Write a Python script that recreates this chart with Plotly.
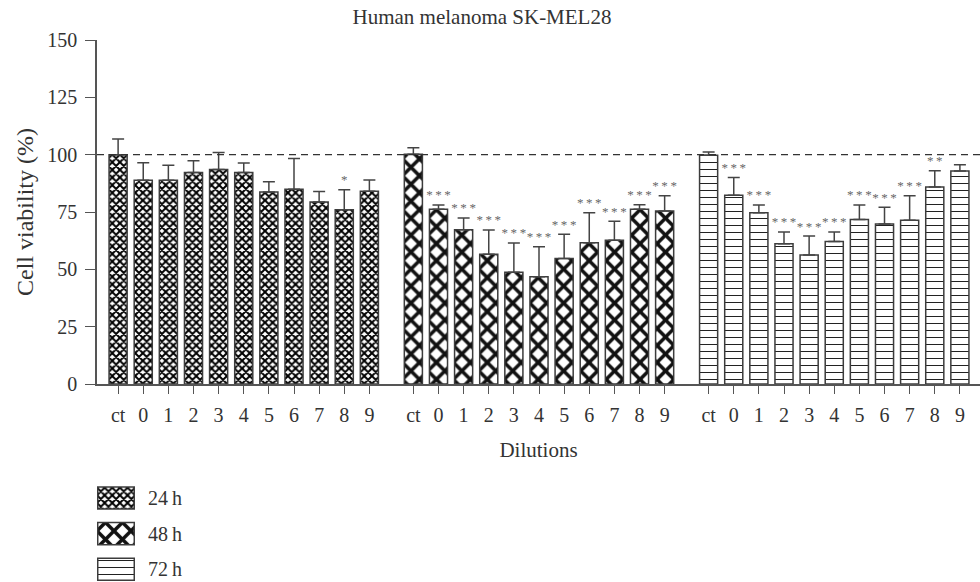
import plotly.graph_objects as go

categories = ["ct", "0", "1", "2", "3", "4", "5", "6", "7", "8", "9"]
series_names = ["24\u2009h", "48\u2009h", "72\u2009h"]

v24 = [100.0, 88.8, 88.8, 92.2, 93.5, 92.2, 83.7, 84.9, 79.4, 76.0, 84.0]
e24 = [6.8, 7.7, 6.6, 5.1, 7.4, 4.2, 4.5, 13.4, 4.5, 8.7, 5.0]
s24 = ["", "", "", "", "", "", "", "", "", "*", ""]

v48 = [100.2, 76.2, 67.3, 56.6, 48.7, 46.8, 54.7, 61.6, 62.7, 76.2, 75.4]
e48 = [2.8, 1.9, 5.1, 10.6, 12.8, 13.1, 10.6, 13.1, 8.3, 2.0, 6.7]
s48 = ["", "***", "***", "***", "***", "***", "***", "***", "***", "***", "***"]

v72 = [99.7, 82.3, 74.7, 61.2, 56.3, 62.1, 71.7, 69.8, 71.4, 85.9, 92.9]
e72 = [1.5, 7.7, 3.4, 5.1, 8.2, 4.2, 6.4, 7.3, 10.7, 7.1, 2.7]
s72 = ["", "***", "***", "***", "***", "***", "***", "***", "***", "**", ""]

yticks = [0, 25, 50, 75, 100, 125, 150]

GROUP_STEP = 11.75
values = [v24, v48, v72]
errors = [e24, e48, e72]
stars = [s24, s48, s72]
patterns = [
    dict(shape="x", size=5.4, solidity=0.6, fgcolor="#000", bgcolor="white", fillmode="replace"),
    dict(shape="x", size=12, solidity=0.5, fgcolor="#111", bgcolor="white", fillmode="replace"),
    dict(shape="-", size=7, solidity=0.15, fgcolor="#222", bgcolor="white", fillmode="replace"),
]
OUTLINE = dict(color="#3c3c3c", width=1.5)

FONT = "Liberation Serif"
TXT = "#333"
fig = go.Figure()
all_x, all_t = [], []
for g in range(3):
    xs = [g * GROUP_STEP + i for i in range(len(categories))]
    all_x += xs
    all_t += categories
    fig.add_trace(go.Bar(
        x=xs, y=values[g], width=0.72, name=series_names[g], showlegend=False,
        marker=dict(color="white", pattern=patterns[g], line=OUTLINE),
        error_y=dict(type="data", array=errors[g], arrayminus=[0] * len(xs),
                     color="#444", thickness=1.5, width=6),
        xaxis="x", yaxis="y",
    ))
    star_fmt = ["\u2009".join(list(s)) for s in stars[g]]
    fig.add_trace(go.Scatter(
        x=xs, y=[v + e + 1.0 for v, e in zip(values[g], errors[g])],
        mode="text", text=star_fmt, textposition="top center",
        textfont=dict(family=FONT, size=13, color="#666"),
        showlegend=False, hoverinfo="skip", xaxis="x", yaxis="y",
    ))
    # legend swatch drawn as a bar in a small subplot
    fig.add_trace(go.Bar(
        x=[1], y=[g], base=0, orientation="h", width=0.62, showlegend=False,
        marker=dict(color="white", pattern=patterns[g], line=OUTLINE),
        hoverinfo="skip", xaxis="x2", yaxis="y2",
    ))

fig.add_hline(y=100, line=dict(color="#333", width=1.2, dash="7px,5px"), xref="x", yref="y")

fig.update_layout(
    width=980, height=582,
    margin=dict(l=97, r=0, t=40, b=0, autoexpand=False),
    paper_bgcolor="white", plot_bgcolor="white",
    font=dict(family=FONT, size=20, color=TXT),
    title=dict(text="Human melanoma SK-MEL28", x=0.436, xref="paper", xanchor="center",
               y=0.9833, yanchor="top", font=dict(family=FONT, size=21, color=TXT)),
    barmode="overlay",
    showlegend=False,
    xaxis=dict(domain=[0, 1], anchor="y", range=[-0.84, 34.3], tickvals=all_x, ticktext=all_t,
               automargin=False,
               showline=True, linecolor="#555", linewidth=1.5,
               ticks="outside", ticklen=8, tickcolor="#555", tickwidth=1.2,
               ticklabelstandoff=4,
               showgrid=False, zeroline=False,
               title=dict(text="Dilutions", font=dict(family=FONT, size=21, color=TXT), standoff=18),
               tickfont=dict(family=FONT, size=20, color=TXT)),
    yaxis=dict(domain=[198 / 542, 1], anchor="x", range=[0, 150], tickvals=yticks,
               automargin=False,
               showline=True, linecolor="#555", linewidth=1.5,
               ticks="outside", ticklen=10, tickcolor="#555", tickwidth=1.2,
               ticklabelstandoff=4,
               showgrid=False, zeroline=False,
               title=dict(text="Cell viability (%)", font=dict(family=FONT, size=24, color=TXT), standoff=7),
               tickfont=dict(family=FONT, size=20, color=TXT)),
    xaxis2=dict(domain=[0, 38 / 883], anchor="y2", range=[-0.02, 1.02], visible=False,
                automargin=False, fixedrange=True),
    yaxis2=dict(domain=[0, 102 / 542], anchor="x2", range=[2.36, -0.506],
                automargin=False,
                tickvals=[0, 1, 2], ticktext=series_names, side="right",
                showline=False, ticks="", showgrid=False, zeroline=False,
                ticklabelstandoff=12, fixedrange=True,
                tickfont=dict(family=FONT, size=20, color=TXT)),
)

fig.write_html("out.html", config={"displayModeBar": False, "responsive": False},
               post_script="document.body.style.margin='0';")
